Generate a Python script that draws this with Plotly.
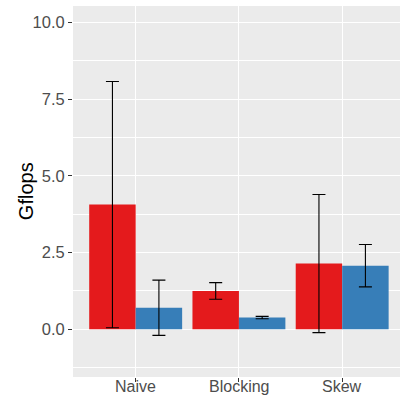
import plotly.graph_objects as go

# Benchmark results: mean Gflops with +/- error per implementation
categories = ["Naive", "Blocking", "Skew"]
series_a = [4.06, 1.25, 2.14]
series_a_err = [4.01, 0.27, 2.25]
series_b = [0.70, 0.38, 2.07]
series_b_err = [0.90, 0.04, 0.69]
y_ticks = [0.0, 2.5, 5.0, 7.5, 10.0]

RED = "#E41A1C"
BLUE = "#377EB8"

fig = go.Figure()
for vals, errs, color in [(series_a, series_a_err, RED), (series_b, series_b_err, BLUE)]:
    fig.add_trace(go.Bar(
        x=categories, y=vals, marker=dict(color=color, line=dict(width=0)),
        error_y=dict(type="data", array=errs, visible=True, color="black",
                     thickness=1.1, width=6.5),
        showlegend=False,
    ))

# category labels drawn close under the panel
annotations = [dict(
    text=c, xref="x", yref="paper", x=c, y=0.0,
    xanchor="center", yanchor="top", showarrow=False, borderpad=0,
    font=dict(size=16, color="#4D4D4D"),
) for c in categories]
annotations.append(dict(
    text="Gflops", xref="paper", yref="paper", x=-0.1437, y=0.501,
    xanchor="center", yanchor="middle", textangle=-90, showarrow=False,
    font=dict(size=20, color="black"),
))

fig.update_layout(
    width=400, height=398,
    margin=dict(l=73, r=0, t=6, b=21, autoexpand=False),
    paper_bgcolor="white",
    plot_bgcolor="#EBEBEB",
    barmode="group", bargap=0.1, bargroupgap=0,
    font=dict(family="Liberation Sans, Arial, sans-serif"),
    annotations=annotations,
)
fig.update_xaxes(
    type="category", range=[-0.607, 2.56], automargin=False,
    showticklabels=False,
    showgrid=True, gridcolor="white", gridwidth=1.1,
    ticks="outside", ticklen=4, tickcolor="#333333", tickwidth=1,
    showline=False, zeroline=False,
)
fig.update_yaxes(
    range=[-1.555, 10.53], automargin=False,
    tickvals=y_ticks, tickformat=".1f",
    showgrid=True, gridcolor="white", gridwidth=1.1,
    minor=dict(dtick=1.25, tick0=0, showgrid=True, gridcolor="white", gridwidth=0.5),
    ticks="outside", ticklen=4, tickcolor="#333333", tickwidth=1,
    tickfont=dict(size=16.5, color="#4D4D4D"),
    zeroline=False, showline=False,
)

fig.write_html("out.html")
